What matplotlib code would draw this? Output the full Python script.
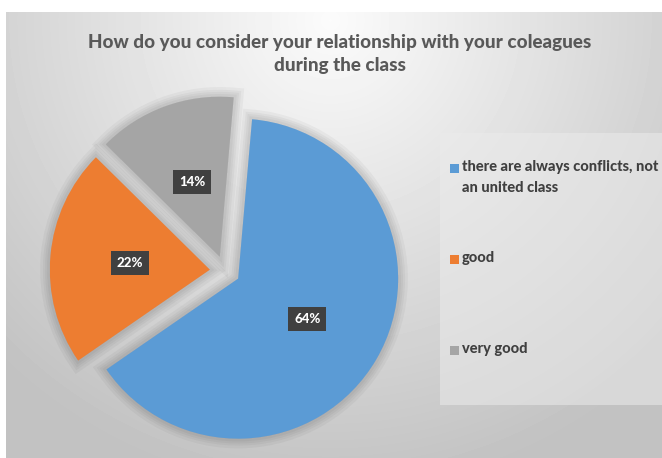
import numpy as np
import matplotlib
matplotlib.use("Agg")
import matplotlib.pyplot as plt
import matplotlib.patheffects as pe
from matplotlib.patches import Rectangle

plt.rcParams['font.family'] = ['Lato', 'DejaVu Sans']

title = "How do you consider your relationship with your coleagues\nduring the class"
categories = ["there are always conflicts, not\nan united class", "good", "very good"]
shares = [64, 22, 14]
colors = ["#5b9bd5", "#ed7d31", "#a5a5a5"]

W, H = 662, 458
fig = plt.figure(figsize=(W / 100, H / 100), dpi=100)

# background: white margin, grey gradient chart area
bg = fig.add_axes([0, 0, 1, 1])
bg.set_xlim(0, W)
bg.set_ylim(H, 0)
bg.axis("off")
yy, xx = np.mgrid[12:H, 6:W]
d = np.hypot((xx - 330) / 420.0, (yy - 20) / 420.0)
shade = np.clip(0.985 - 0.2 * d, 0.76, 1.0)
bg.imshow(shade, cmap="gray", vmin=0, vmax=1, extent=(6, W, H, 12),
          interpolation="bilinear", aspect="auto")
bg.add_patch(Rectangle((440, 133), W - 440, 272, fc="#ebebeb", ec="none", alpha=0.55))

bg.text(340, 54, title, ha="center", va="center", fontsize=13.6,
        fontweight=900, color="#595959", linespacing=1.45)

# pie, 1 data unit = 160 px, centred at (225, 271) px
cx, cy, R = 225, 271, 160
ax = fig.add_axes([0, 0, 1, 1])
ax.patch.set_visible(False)
wedges, texts, autotexts = ax.pie(
    shares, colors=colors, startangle=85, counterclock=False,
    explode=[0.095] * 3, autopct="%1.0f%%", pctdistance=0.5,
    textprops=dict(color="white", fontsize=9.5, fontweight=900))
ax.set_xlim(-cx / R, (W - cx) / R)
ax.set_ylim(-(H - cy) / R, cy / R)
ax.set_aspect("auto")
ax.axis("off")

shadow = [pe.Stroke(linewidth=w, foreground="black", alpha=0.035) for w in (14, 10, 7, 4)]
for w in wedges:
    w.set_path_effects(shadow + [pe.Normal()])
for t in autotexts:
    t.set_bbox(dict(boxstyle="square,pad=0.45", fc="#404040", ec="none"))

# legend
leg_y = [171, 262, 353]
for lab, col, y in zip(categories, colors, leg_y):
    bg.add_patch(Rectangle((450, y - 7.5), 9, 9, fc=col, ec="none"))
    bg.text(462, y - 11, lab, ha="left", va="top", fontsize=10.5,
            fontweight=900, color="#404040", linespacing=1.6)

fig.savefig("out.png", dpi=100)
